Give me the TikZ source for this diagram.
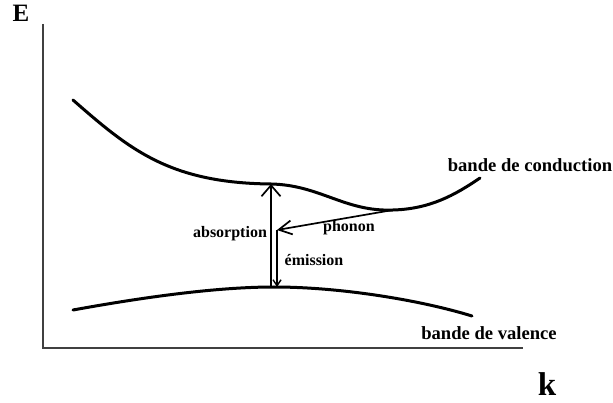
\documentclass[tikz,border=0pt]{standalone}
\usepackage{fontspec}
\setmainfont{Liberation Serif}
\usetikzlibrary{arrows.meta}
\tikzset{
  band/.style={line width=3pt, line cap=round},
  trans/.style={line width=1.7pt},
  axis/.style={line width=1.2pt, black!75},
  lbl/.style={font=\fontsize{16}{18}\selectfont\bfseries, inner sep=0pt},
  blbl/.style={font=\fontsize{18.6}{20}\selectfont\bfseries, inner sep=0pt},
}
\begin{document}
\begin{tikzpicture}[x=1pt,y=-1pt]
\useasboundingbox (0,0) rectangle (613,403);
\coordinate (ax) at (43,24);
\coordinate (orig) at (43,348);
\coordinate (ay) at (523,348);
\draw[axis] (ax) -- (orig) -- (ay);
\node[font=\fontsize{25}{27}\selectfont\bfseries, inner sep=0pt] (E) at (21,13) {E};
\node[font=\fontsize{33}{35}\selectfont\bfseries, inner sep=0pt] (k) at (547,384) {k};
% bands
\coordinate (cstart) at (73,100);
\coordinate (ctop) at (271,184);
\coordinate (cmin) at (393,210);
\coordinate (cend) at (480,178);
\draw[band] (cstart) .. controls (130,150) and (170,183) .. (ctop)
  .. controls (320,185) and (345,212) .. (cmin)
  .. controls (430,209) and (455,195) .. (cend);
\coordinate (vstart) at (73,310);
\coordinate (vtop) at (274,287);
\coordinate (vend) at (472,316);
\draw[band] (vstart) .. controls (150,296) and (220,287) .. (vtop)
  .. controls (340,287) and (420,300) .. (vend);
% transitions
\coordinate (abot) at (271,288);
\coordinate (mid) at (277,230);
\coordinate (ebot) at (277,287);
\draw[trans, -{Straight Barb[length=11pt,width=19pt,line width=1.7pt]}] (abot) -- (ctop);
\draw[trans, -{Straight Barb[length=13pt,width=14pt,line width=1.7pt]}] (cmin) -- (mid);
\draw[trans, -{Straight Barb[length=6pt,width=8pt,line width=1.4pt]}] (mid) -- (ebot);
% labels
\node[lbl] (abs) at (230,234) {absorption};
\node[lbl] (pho) at (349,228) {phonon};
\node[lbl] (emi) at (314,260) {émission};
\node[blbl] (cb) at (530,165) {bande de conduction};
\node[blbl] (vb) at (489,333) {bande de valence};
\end{tikzpicture}
\end{document}
